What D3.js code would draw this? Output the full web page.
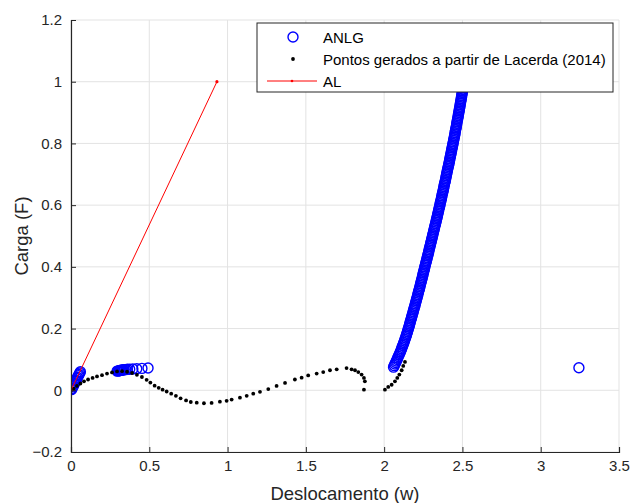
<!DOCTYPE html>
<html>
<head>
<meta charset="utf-8">
<script src="https://cdn.jsdelivr.net/npm/d3@7/dist/d3.min.js"></script>
<style>
  body { margin: 0; background: #fff; }
  svg { font-family: "Liberation Sans", Arial, sans-serif; }
</style>
</head>
<body>
<div id="chart"></div>
<script>
// ANLG - near origin, the small cluster, the long branch and the last point
var anlgOrigin = [[0.003,0.002],[0.007,0.006],[0.011,0.011],[0.016,0.015],[0.020,0.020],[0.025,0.024],[0.029,0.029],
    [0.033,0.033],[0.038,0.038],[0.042,0.042],[0.047,0.047],[0.051,0.051],[0.056,0.056],[0.060,0.060]];
var anlgCluster = [[0.295,0.062],[0.300,0.063],[0.305,0.063],[0.310,0.064],[0.315,0.064],[0.320,0.065],[0.325,0.065],
    [0.330,0.066],[0.335,0.066],[0.340,0.067],[0.350,0.067],[0.360,0.068],[0.375,0.068],[0.395,0.069],
    [0.420,0.070],[0.453,0.071],[0.492,0.072]];
var anlgBranch = [
    [2.060,0.075],[2.065,0.080],[2.069,0.085],[2.074,0.090],[2.078,0.095],[2.083,0.100],
    [2.087,0.105],[2.091,0.110],[2.096,0.115],[2.100,0.120],[2.104,0.125],
    [2.108,0.130],[2.112,0.135],[2.115,0.140],[2.119,0.145],[2.123,0.150],
    [2.126,0.155],[2.130,0.160],[2.133,0.165],[2.137,0.170],[2.140,0.175],
    [2.143,0.180],[2.146,0.185],[2.149,0.190],[2.152,0.195],[2.155,0.200],
    [2.158,0.205],[2.161,0.210],[2.163,0.215],[2.166,0.220],[2.169,0.225],
    [2.172,0.230],[2.175,0.235],[2.177,0.240],[2.180,0.245],[2.183,0.250],
    [2.186,0.255],[2.188,0.260],[2.191,0.265],[2.194,0.270],[2.197,0.275],
    [2.199,0.280],[2.202,0.285],[2.205,0.290],[2.207,0.295],[2.210,0.300],
    [2.213,0.305],[2.215,0.310],[2.218,0.315],[2.220,0.320],[2.223,0.325],
    [2.226,0.330],[2.228,0.335],[2.231,0.340],[2.233,0.345],[2.236,0.350],
    [2.238,0.355],[2.241,0.360],[2.243,0.365],[2.246,0.370],[2.248,0.375],
    [2.250,0.380],[2.253,0.385],[2.255,0.390],[2.258,0.395],[2.260,0.400],
    [2.263,0.405],[2.265,0.410],[2.268,0.415],[2.270,0.420],[2.273,0.425],
    [2.275,0.430],[2.278,0.435],[2.280,0.440],[2.283,0.445],[2.285,0.450],
    [2.287,0.455],[2.290,0.460],[2.292,0.465],[2.295,0.470],[2.297,0.475],
    [2.299,0.480],[2.302,0.485],[2.304,0.490],[2.307,0.495],[2.309,0.500],
    [2.311,0.505],[2.314,0.510],[2.316,0.515],[2.319,0.520],[2.321,0.525],
    [2.323,0.530],[2.326,0.535],[2.328,0.540],[2.331,0.545],[2.333,0.550],
    [2.335,0.555],[2.338,0.560],[2.340,0.565],[2.342,0.570],[2.345,0.575],
    [2.347,0.580],[2.349,0.585],[2.351,0.590],[2.354,0.595],[2.356,0.600],
    [2.358,0.605],[2.360,0.610],[2.363,0.615],[2.365,0.620],[2.367,0.625],
    [2.369,0.630],[2.371,0.635],[2.374,0.640],[2.376,0.645],[2.378,0.650],
    [2.380,0.655],[2.382,0.660],[2.384,0.665],[2.386,0.670],[2.389,0.675],
    [2.391,0.680],[2.393,0.685],[2.395,0.690],[2.397,0.695],[2.399,0.700],
    [2.401,0.705],[2.403,0.710],[2.405,0.715],[2.407,0.720],[2.410,0.725],
    [2.412,0.730],[2.414,0.735],[2.416,0.740],[2.418,0.745],[2.420,0.750],
    [2.422,0.755],[2.424,0.760],[2.426,0.765],[2.428,0.770],[2.430,0.775],
    [2.432,0.780],[2.434,0.785],[2.436,0.790],[2.438,0.795],[2.440,0.800],
    [2.442,0.805],[2.444,0.810],[2.446,0.815],[2.448,0.820],[2.450,0.825],
    [2.452,0.830],[2.453,0.835],[2.455,0.840],[2.457,0.845],[2.459,0.850],
    [2.461,0.855],[2.463,0.860],[2.464,0.865],[2.466,0.870],[2.468,0.875],
    [2.470,0.880],[2.472,0.885],[2.473,0.890],[2.475,0.895],[2.477,0.900],
    [2.479,0.905],[2.480,0.910],[2.482,0.915],[2.484,0.920],[2.486,0.925],
    [2.487,0.930],[2.489,0.935],[2.491,0.940],[2.492,0.945],[2.494,0.950],
    [2.496,0.955],[2.497,0.960],[2.499,0.965],[2.501,0.970],[2.503,0.975],
    [2.504,0.980],[2.506,0.985],[2.508,0.990],[2.509,0.995],[2.511,1.000]];
var anlgLast = [[3.244,0.073]];

// Pontos gerados a partir de Lacerda (2014)
var lacerda = [[0.000,0.000],[0.017,0.005],[0.038,0.014],[0.060,0.022],[0.083,0.029],[0.109,0.035],[0.138,0.040],
    [0.166,0.045],[0.198,0.049],[0.230,0.054],[0.262,0.058],[0.294,0.061],[0.326,0.062],[0.358,0.060],
    [0.390,0.056],[0.421,0.050],[0.453,0.043],[0.483,0.034],[0.507,0.025],[0.534,0.015],[0.560,0.008],
    [0.585,0.002],[0.611,-0.004],[0.640,-0.011],[0.670,-0.018],[0.700,-0.026],[0.735,-0.033],[0.765,-0.038],
    [0.803,-0.040],[0.849,-0.042],[0.898,-0.041],[0.951,-0.037],[0.994,-0.034],[1.026,-0.030],[1.079,-0.024],
    [1.122,-0.018],[1.164,-0.011],[1.207,-0.005],[1.260,0.004],[1.313,0.014],[1.367,0.024],[1.430,0.035],
    [1.473,0.041],[1.515,0.048],[1.569,0.054],[1.611,0.059],[1.654,0.065],[1.697,0.068],[1.760,0.072],
    [1.792,0.068],[1.814,0.065],[1.835,0.059],[1.856,0.051],[1.871,0.040],[1.877,0.029],[1.871,0.002],
    [2.005,0.002],[2.026,0.011],[2.048,0.018],[2.069,0.029],[2.084,0.040],[2.097,0.051],[2.112,0.065],
    [2.122,0.079],[2.133,0.092]];

// AL
var al = [[0,0],[0.932,1.0]];

var xTicks = [0, 0.5, 1, 1.5, 2, 2.5, 3, 3.5];
var yTicks = [-0.2, 0, 0.2, 0.4, 0.6, 0.8, 1, 1.2];
var legendLabels = ["ANLG", "Pontos gerados a partir de Lacerda (2014)", "AL"];

var W = 630, H = 503;
var margin = {top: 20, right: 11, bottom: 51, left: 71},
    width = W - margin.left - margin.right,
    height = H - margin.top - margin.bottom;
var axisColor = "#262626";

var svg = d3.select("#chart").append("svg")
    .attr("width", W)
    .attr("height", H);

var g = svg.append("g")
    .attr("transform", "translate(" + margin.left + "," + margin.top + ")");

var x = d3.scaleLinear().domain([0, 3.5]).range([0, width]);
var y = d3.scaleLinear().domain([-0.2, 1.2]).range([height, 0]);

// grid
g.append("g").selectAll("line.gx")
    .data(xTicks).enter().append("line")
    .attr("x1", d => x(d)).attr("x2", d => x(d))
    .attr("y1", 0).attr("y2", height)
    .attr("stroke", "#e3e3e3").attr("stroke-width", 1);
g.append("g").selectAll("line.gy")
    .data(yTicks).enter().append("line")
    .attr("y1", d => y(d)).attr("y2", d => y(d))
    .attr("x1", 0).attr("x2", width)
    .attr("stroke", "#e3e3e3").attr("stroke-width", 1);

g.append("defs").append("clipPath").attr("id", "plotclip")
    .append("rect").attr("x", 0).attr("y", 0).attr("width", width).attr("height", height);

var plot = g.append("g").attr("clip-path", "url(#plotclip)");

// ANLG circles
var anlg = anlgOrigin.concat(anlgCluster, anlgBranch, anlgLast);
plot.append("g").selectAll("circle")
    .data(anlg).enter().append("circle")
    .attr("cx", d => x(d[0]))
    .attr("cy", d => y(d[1]))
    .attr("r", 5)
    .attr("fill", "none")
    .attr("stroke", "#0000ff")
    .attr("stroke-width", 1.4);

// Lacerda dots
plot.append("g").selectAll("circle")
    .data(lacerda).enter().append("circle")
    .attr("cx", d => x(d[0]))
    .attr("cy", d => y(d[1]))
    .attr("r", 1.9)
    .attr("fill", "#000");

// AL line
var line = d3.line().x(d => x(d[0])).y(d => y(d[1]));
plot.append("path")
    .datum(al)
    .attr("d", line)
    .attr("fill", "none")
    .attr("stroke", "#ff0000")
    .attr("stroke-width", 1);
plot.append("g").selectAll("circle")
    .data(al).enter().append("circle")
    .attr("cx", d => x(d[0]))
    .attr("cy", d => y(d[1]))
    .attr("r", 1.6)
    .attr("fill", "#ff0000");

// axes
var xAxis = d3.axisBottom(x).tickValues(xTicks).tickSize(-5).tickPadding(8)
    .tickFormat(d3.format("~g"));
var yAxis = d3.axisLeft(y).tickValues(yTicks).tickSize(-5).tickPadding(9)
    .tickFormat(d3.format("~g"));

var gx = g.append("g").attr("transform", "translate(0," + height + ")").call(xAxis);
var gy = g.append("g").call(yAxis);
[gx, gy].forEach(function (a) {
    a.select(".domain").attr("stroke", axisColor).attr("stroke-width", 1.2);
    a.selectAll(".tick line").attr("stroke", axisColor).attr("stroke-width", 1);
    a.selectAll(".tick text").attr("fill", axisColor).style("font-size", "15px");
});

// axis labels
svg.append("text")
    .attr("x", margin.left + width / 2)
    .attr("y", 500)
    .attr("text-anchor", "middle")
    .attr("fill", axisColor)
    .style("font-size", "18.5px")
    .text("Deslocamento (w)");
svg.append("text")
    .attr("transform", "translate(28," + (margin.top + height / 2) + ") rotate(-90)")
    .attr("text-anchor", "middle")
    .attr("fill", axisColor)
    .style("font-size", "18.5px")
    .text("Carga (F)");

// legend
var lg = svg.append("g").attr("transform", "translate(257,23)");
lg.append("rect")
    .attr("width", 356).attr("height", 69)
    .attr("fill", "#fff")
    .attr("stroke", axisColor).attr("stroke-width", 1);
var rowY = [14, 36, 58];
lg.append("circle").attr("cx", 36).attr("cy", rowY[0]).attr("r", 5)
    .attr("fill", "none").attr("stroke", "#0000ff").attr("stroke-width", 1.4);
lg.append("circle").attr("cx", 36).attr("cy", rowY[1]).attr("r", 1.9).attr("fill", "#000");
lg.append("line").attr("x1", 10).attr("x2", 60).attr("y1", rowY[2]).attr("y2", rowY[2])
    .attr("stroke", "#ff0000").attr("stroke-width", 1);
lg.append("circle").attr("cx", 35).attr("cy", rowY[2]).attr("r", 1.3).attr("fill", "#ff0000");
lg.selectAll("text.lab")
    .data(legendLabels).enter().append("text")
    .attr("x", 66)
    .attr("y", (d, i) => rowY[i] + 5.5)
    .attr("fill", "#000")
    .style("font-size", "15px")
    .text(d => d);
</script>
</body>
</html>
